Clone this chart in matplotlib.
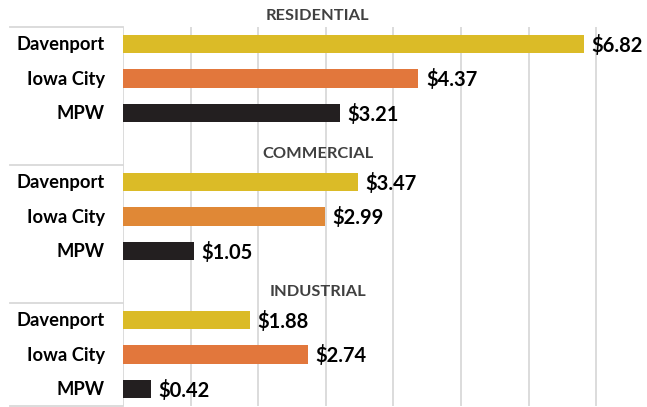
import matplotlib
matplotlib.use("Agg")
import matplotlib.pyplot as plt
from matplotlib.lines import Line2D

groups = ["RESIDENTIAL", "COMMERCIAL", "INDUSTRIAL"]
cities = ["Davenport", "Iowa City", "MPW"]
residential = [6.82, 4.37, 3.21]
commercial = [3.47, 2.99, 1.05]
industrial = [1.88, 2.74, 0.42]
values = [residential, commercial, industrial]

city_colors = {"Davenport": "#DBBB27", "Iowa City": "#E2773C", "MPW": "#231F20"}
group_orange = ["#E2773C", "#E08836", "#E2773C"]

plt.rcParams['font.family'] = ['Lato', 'DejaVu Sans']

fig = plt.figure(figsize=(6.47, 4.07), dpi=100)
ax = fig.add_axes([123/647, 0.75/407, 524/647, 379.5/407])
ax.set_xlim(0, 7.75)
ax.set_ylim(10.5, -0.5)

for g, (gname, vals) in enumerate(zip(groups, values)):
    base = g * 4
    for i, (city, v) in enumerate(zip(cities, vals)):
        y = base + i
        col = city_colors[city]
        if city == "Iowa City":
            col = group_orange[g]
        ax.barh(y, v, height=0.54, color=col, zorder=3)
        ax.text(v + 0.11, y + 0.03, f"${v:.2f}", va="center", ha="left",
                fontsize=14.5, fontweight="bold", color="black", zorder=4)
        fig.text(105/647, ax.transData.transform((0, y + 0.02))[1] / 407, city,
                 ha="right", va="center", fontsize=13.2, fontweight="bold",
                 color="black")
    # group title
    ty = base - 1 + 0.2
    ax.text(2.88, ty, gname, ha="center", va="center", fontsize=11.8,
            fontweight="bold", color="#404040", clip_on=False)

# gridlines
for xv in range(0, 8):
    ax.axvline(xv, color="#D9D9D9", lw=1.3, zorder=1)

# separators on left
for yb in [-0.5, 3.5, 7.5, 10.5]:
    yf = ax.transData.transform((0, yb))[1] / 407
    fig.add_artist(Line2D([10/647, 123/647], [yf, yf], color="#D9D9D9", lw=1.3))

ax.set_xticks([])
ax.set_yticks([])
for s in ax.spines.values():
    s.set_visible(False)

fig.savefig("out.png", dpi=100)
